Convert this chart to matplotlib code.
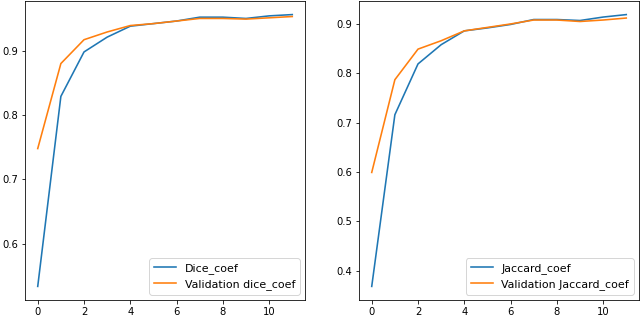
import matplotlib
matplotlib.use("Agg")
import matplotlib.pyplot as plt

epochs = list(range(12))
dice_coef = [0.534, 0.829, 0.898, 0.921, 0.938, 0.942, 0.946, 0.952, 0.952, 0.950, 0.954, 0.956]
val_dice_coef = [0.748, 0.880, 0.917, 0.929, 0.939, 0.942, 0.946, 0.950, 0.950, 0.949, 0.951, 0.953]
jaccard_coef = [0.368, 0.716, 0.819, 0.858, 0.886, 0.892, 0.899, 0.909, 0.909, 0.907, 0.914, 0.919]
val_jaccard_coef = [0.599, 0.787, 0.849, 0.866, 0.886, 0.893, 0.900, 0.908, 0.908, 0.905, 0.908, 0.912]

W, H = 640, 317
fig = plt.figure(figsize=(W / 72, H / 72), dpi=72)

ax1 = fig.add_axes([25 / W, 17 / H, 280 / W, 299 / H])
ax1.plot(epochs, dice_coef, label="Dice_coef", lw=1.6)
ax1.plot(epochs, val_dice_coef, label="Validation dice_coef", lw=1.6)
ax1.set_xticks([0, 2, 4, 6, 8, 10])
ax1.set_yticks([0.6, 0.7, 0.8, 0.9])
ax1.legend(loc="lower right", fontsize=11)

ax2 = fig.add_axes([359 / W, 17 / H, 280 / W, 299 / H])
ax2.plot(epochs, jaccard_coef, label="Jaccard_coef", lw=1.6)
ax2.plot(epochs, val_jaccard_coef, label="Validation Jaccard_coef", lw=1.6)
ax2.set_xticks([0, 2, 4, 6, 8, 10])
ax2.set_yticks([0.4, 0.5, 0.6, 0.7, 0.8, 0.9])
ax2.legend(loc="lower right", fontsize=11)

fig.savefig("out.png", dpi=72)
